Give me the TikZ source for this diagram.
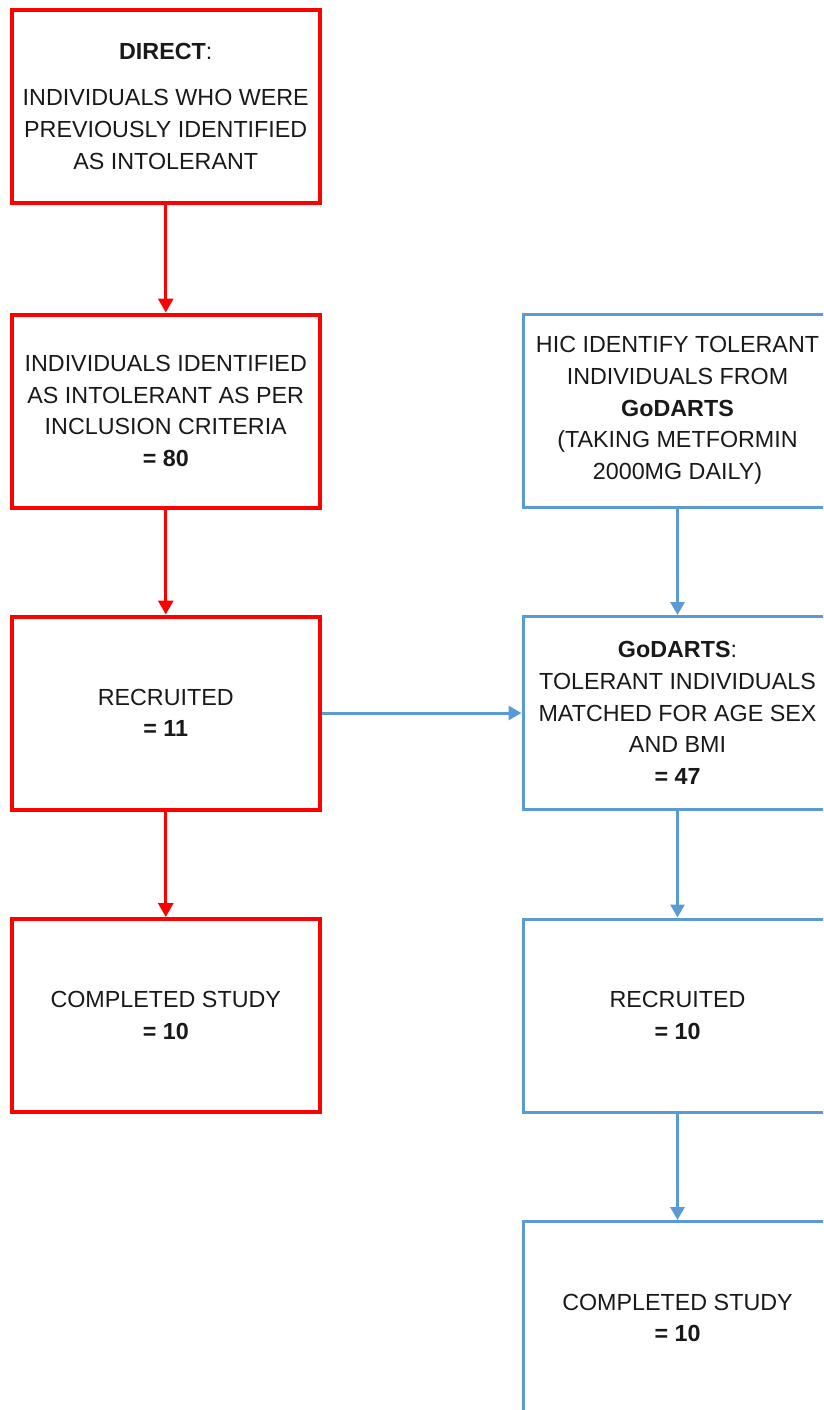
\documentclass[tikz,border=0pt]{standalone}
\usepackage{fontspec}
\setmainfont{Liberation Sans}
\usetikzlibrary{arrows.meta}
\definecolor{redline}{RGB}{255,0,0}
\definecolor{blueline}{RGB}{91,155,213}
\begin{document}
\begin{tikzpicture}[x=1pt,y=-1pt,
  box/.style={draw, fill=white, minimum width=307.5pt, minimum height=193pt,
    align=center, inner sep=0pt, text=black!90,
    font=\fontsize{23.3}{31.7}\selectfont},
  redbox/.style={box, draw=redline, line width=4pt},
  bluebox/.style={box, draw=blueline, line width=3pt, minimum width=309pt},
  redarrow/.style={draw=redline, line width=3pt, -{Triangle[length=14pt,width=15pt]}},
  bluearrow/.style={draw=blueline, line width=3pt, -{Triangle[length=13pt,width=14pt]}}]
\useasboundingbox (0,0) rectangle (823,1410);
\clip (0,0) rectangle (823,1410);

% intolerant arm
\node[redbox] (r1) at (165.75,106.5) {\textbf{DIRECT}:\\[14pt] INDIVIDUALS WHO WERE\\ PREVIOUSLY IDENTIFIED\\ AS INTOLERANT};
\node[redbox] (r2) at (165.75,411) {INDIVIDUALS IDENTIFIED\\ AS INTOLERANT AS PER\\ INCLUSION CRITERIA\\ \textbf{= 80}};
\node[redbox] (r3) at (165.75,713) {RECRUITED\\ \textbf{= 11}};
\node[redbox] (r4) at (165.75,1015.5) {COMPLETED STUDY\\ \textbf{= 10}};

% tolerant arm
\node[bluebox] (b1) at (677.5,410.5) {HIC IDENTIFY TOLERANT\\ INDIVIDUALS FROM\\ \textbf{GoDARTS}\\ (TAKING METFORMIN\\ 2000MG DAILY)};
\node[bluebox] (b2) at (677.5,713) {\textbf{GoDARTS}:\\ TOLERANT INDIVIDUALS\\ MATCHED FOR AGE SEX\\ AND BMI\\ \textbf{= 47}};
\node[bluebox] (b3) at (677.5,1015.5) {RECRUITED\\ \textbf{= 10}};
\node[bluebox] (b4) at (677.5,1318) {COMPLETED STUDY\\ \textbf{= 10}};

% connectors
\draw[redarrow] (r1) -- (r2);
\draw[redarrow] (r2) -- (r3);
\draw[redarrow] (r3) -- (r4);
\draw[bluearrow] (b1) -- (b2);
\draw[bluearrow] (b2) -- (b3);
\draw[bluearrow] (b3) -- (b4);
\draw[bluearrow] (r3.east) -- (b2.west);
\end{tikzpicture}
\end{document}
